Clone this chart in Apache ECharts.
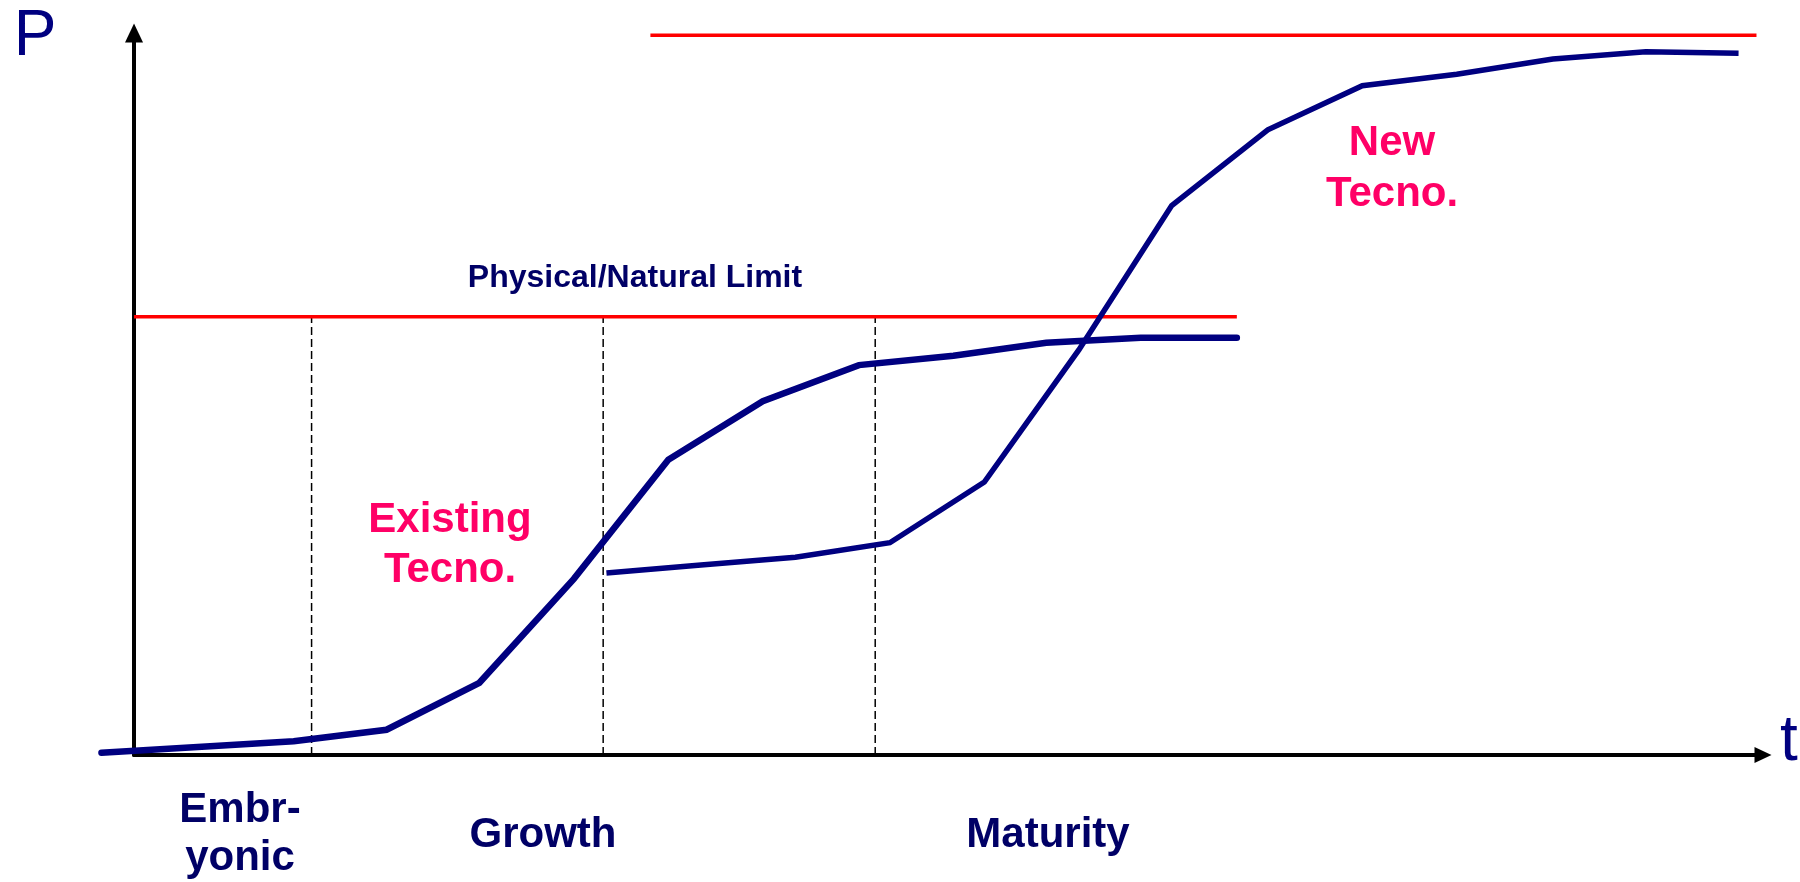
<!DOCTYPE html>
<html>
<head>
<meta charset="utf-8">
<script src="https://cdn.jsdelivr.net/npm/echarts@6/dist/echarts.min.js"></script>
<style>
  html, body { margin: 0; padding: 0; background: #ffffff; }
  #chart { width: 1800px; height: 882px; }
</style>
</head>
<body>
<div id="chart"></div>
<script>
// ---- data (time t on x, performance P on y; axes 0..100) ----
const existingT = [-2.0, 9.8, 15.5, 21.2, 27.0, 32.8, 38.6, 44.5, 50.3, 56.0, 61.8, 67.7];
const existingP = [0.3, 1.9, 3.5, 10.0, 24.4, 40.9, 49.0, 54.0, 55.3, 57.1, 57.8, 57.8];
const newT = [29.0, 34.8, 40.6, 46.4, 52.2, 58.0, 63.7, 69.6, 75.4, 81.2, 87.1, 92.8, 98.5];
const newP = [25.2, 26.3, 27.4, 29.4, 37.8, 56.1, 76.1, 86.6, 92.7, 94.3, 96.4, 97.4, 97.2];
const physicalLimitP = 60.7;
const physicalLimitT = [0, 67.7];
const newLimitP = 99.7;
const newLimitT = [31.7, 99.6];
const phaseBoundariesT = [10.9, 28.8, 45.5];
const phaseLabels = ['Embr-\nyonic', 'Growth', 'Maturity'];
const curveLabels = ['Existing\nTecno.', 'New\nTecno.'];
const limitLabel = 'Physical/Natural Limit';
const axisNames = ['t', 'P'];

const NAVY = '#000080';
const TEXT_NAVY = '#000066';
const PINK = '#FF0066';
const RED = '#FF0000';
const FONT = '"Liberation Sans", Arial, sans-serif';

const zip = (a, b) => a.map((v, i) => [v, b[i]]);

const series = [];
phaseBoundariesT.forEach(function (t) {
  series.push({
    type: 'line', silent: true, symbol: 'none', z: 1,
    data: [[t, 0], [t, physicalLimitP]],
    lineStyle: { color: '#000', width: 1.5, type: [8, 4] }
  });
});
series.push({
  type: 'line', silent: true, symbol: 'none', z: 2,
  data: physicalLimitT.map(t => [t, physicalLimitP]),
  lineStyle: { color: RED, width: 3.5 }
});
series.push({
  type: 'line', silent: true, symbol: 'none', z: 2,
  data: newLimitT.map(t => [t, newLimitP]),
  lineStyle: { color: RED, width: 3.5 }
});
series.push({
  type: 'line', silent: true, symbol: 'none', z: 3,
  data: zip(existingT, existingP),
  lineStyle: { color: NAVY, width: 6.5, cap: 'round', join: 'miter' }
});
series.push({
  type: 'line', silent: true, symbol: 'none', z: 4,
  data: zip(newT, newP),
  lineStyle: { color: NAVY, width: 5.5, join: 'miter' }
});

function txt(x, y, text, size, color, weight, lh) {
  return {
    type: 'text', x: x, y: y, silent: true, z: 10,
    style: {
      text: text, fill: color, font: weight + ' ' + size + 'px ' + FONT,
      align: 'center', verticalAlign: 'middle', lineHeight: lh || size
    }
  };
}

const hiddenParts = { axisTick: { show: false }, axisLabel: { show: false }, splitLine: { show: false } };

// grid 0 holds the series (t from -2.5); grid 1 only draws the t axis from t = 0
const chart = echarts.init(document.getElementById('chart'), null, { renderer: 'canvas' });
chart.setOption({
  animation: false,
  backgroundColor: '#ffffff',
  grid: [
    { left: 93.3, right: 37, top: 33, bottom: 127 },
    { left: 134, right: 37, top: 33, bottom: 127 }
  ],
  xAxis: [
    Object.assign({ type: 'value', gridIndex: 0, min: -2.5, max: 100, axisLine: { show: false } }, hiddenParts),
    Object.assign({
      type: 'value', gridIndex: 1, min: 0, max: 100,
      axisLine: { show: true, onZero: true, symbol: ['none', 'triangle'], symbolSize: [16, 17],
        lineStyle: { color: '#000', width: 4 } }
    }, hiddenParts)
  ],
  yAxis: [
    Object.assign({
      type: 'value', gridIndex: 0, min: 0, max: 100,
      axisLine: { show: true, onZero: true, symbol: ['none', 'triangle'], symbolSize: [18, 19],
        lineStyle: { color: '#000', width: 4 } }
    }, hiddenParts),
    Object.assign({ type: 'value', gridIndex: 1, min: 0, max: 100, axisLine: { show: false } }, hiddenParts)
  ],
  series: series,
  graphic: [
    txt(35, 37, axisNames[1], 64, NAVY, 'normal'),
    txt(1789, 742, axisNames[0], 64, NAVY, 'normal'),
    txt(635, 278, limitLabel, 32, TEXT_NAVY, 'bold'),
    txt(450, 545, curveLabels[0], 42, PINK, 'bold', 50),
    txt(1392, 169, curveLabels[1], 42, PINK, 'bold', 51),
    txt(240, 834, phaseLabels[0], 42, TEXT_NAVY, 'bold', 48),
    txt(543, 835, phaseLabels[1], 42, TEXT_NAVY, 'bold'),
    txt(1048, 835, phaseLabels[2], 42, TEXT_NAVY, 'bold')
  ]
});
</script>
</body>
</html>
